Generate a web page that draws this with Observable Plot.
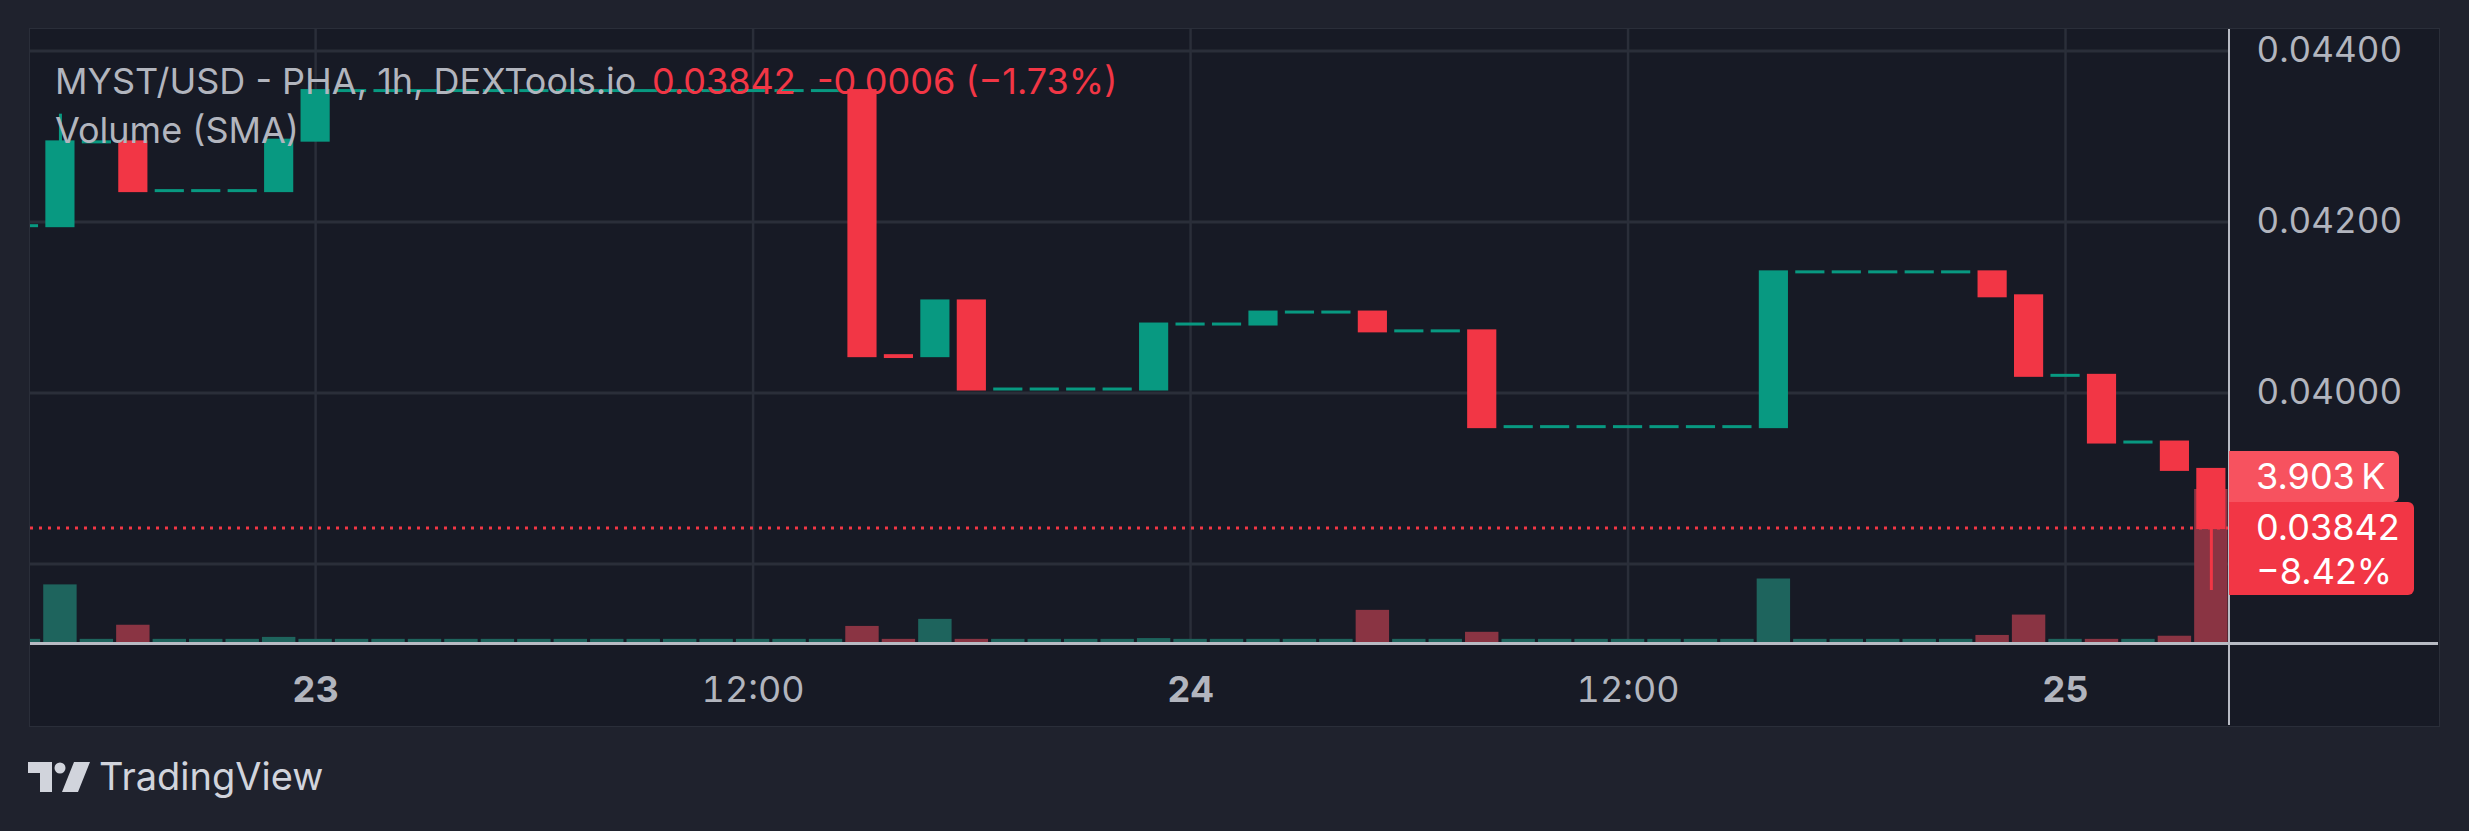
<!DOCTYPE html>
<html><head><meta charset="utf-8">
<script src="https://cdn.jsdelivr.net/npm/d3@7"></script>
<script src="https://cdn.jsdelivr.net/npm/@observablehq/plot@0.6"></script>
<style>
html,body{margin:0;padding:0;background:#1f222d;}
#root{position:relative;width:2469px;height:831px;background:#1f222d;font-family:Inter,"Noto Sans",sans-serif;overflow:hidden}
#panel{position:absolute;left:29px;top:28px;width:2411px;height:699px;background:#171a25;border:1px solid #2a2e39;box-sizing:border-box}
.layer{position:absolute;left:30px;top:29px;}
.abs{position:absolute;white-space:pre;}
.legend{font-size:36px;line-height:1;color:#b2b5be;}
.red{color:#f23645;}
.lbl{position:absolute;left:2229px;color:#fff;font-size:36px;border-radius:0 6px 6px 0;box-sizing:border-box;padding-left:27px;}
</style></head>
<body><div id="root"><div id="panel"></div></div>
<script>
// ---------- data ----------
const times = [
"2024-06-22T16:00Z","2024-06-22T17:00Z","2024-06-22T18:00Z","2024-06-22T19:00Z","2024-06-22T20:00Z","2024-06-22T21:00Z","2024-06-22T22:00Z","2024-06-22T23:00Z",
"2024-06-23T00:00Z","2024-06-23T01:00Z","2024-06-23T02:00Z","2024-06-23T03:00Z","2024-06-23T04:00Z","2024-06-23T05:00Z","2024-06-23T06:00Z","2024-06-23T07:00Z",
"2024-06-23T08:00Z","2024-06-23T09:00Z","2024-06-23T10:00Z","2024-06-23T11:00Z","2024-06-23T12:00Z","2024-06-23T13:00Z","2024-06-23T14:00Z","2024-06-23T15:00Z",
"2024-06-23T16:00Z","2024-06-23T17:00Z","2024-06-23T18:00Z","2024-06-23T19:00Z","2024-06-23T20:00Z","2024-06-23T21:00Z","2024-06-23T22:00Z","2024-06-23T23:00Z",
"2024-06-24T00:00Z","2024-06-24T01:00Z","2024-06-24T02:00Z","2024-06-24T03:00Z","2024-06-24T04:00Z","2024-06-24T05:00Z","2024-06-24T06:00Z","2024-06-24T07:00Z",
"2024-06-24T08:00Z","2024-06-24T09:00Z","2024-06-24T10:00Z","2024-06-24T11:00Z","2024-06-24T12:00Z","2024-06-24T13:00Z","2024-06-24T14:00Z","2024-06-24T15:00Z",
"2024-06-24T16:00Z","2024-06-24T17:00Z","2024-06-24T18:00Z","2024-06-24T19:00Z","2024-06-24T20:00Z","2024-06-24T21:00Z","2024-06-24T22:00Z","2024-06-24T23:00Z",
"2024-06-25T00:00Z","2024-06-25T01:00Z","2024-06-25T02:00Z","2024-06-25T03:00Z","2024-06-25T04:00Z"];
const opens = [
0.04195,0.04195,0.04293,0.04293,0.04236,0.04236,0.04236,0.04236,
0.04295,0.04353,0.04353,0.04353,0.04353,0.04353,0.04353,0.04353,
0.04353,0.04353,0.04353,0.04353,0.04353,0.04353,0.04353,0.04353,
0.04043,0.04043,0.04107,0.04004,0.04004,0.04004,0.04004,0.04004,
0.04080,0.04080,0.04080,0.04094,0.04094,0.04094,0.04072,0.04072,
0.04072,0.03960,0.03960,0.03960,0.03960,0.03960,0.03960,0.03960,
0.03960,0.04141,0.04141,0.04141,0.04141,0.04141,0.04141,0.04113,
0.04020,0.04020,0.03942,0.03942,0.03910];
const closes = [
0.04195,0.04293,0.04293,0.04236,0.04236,0.04236,0.04236,0.04295,
0.04353,0.04353,0.04353,0.04353,0.04353,0.04353,0.04353,0.04353,
0.04353,0.04353,0.04353,0.04353,0.04353,0.04353,0.04353,0.04043,
0.04042,0.04107,0.04004,0.04004,0.04004,0.04004,0.04004,0.04080,
0.04080,0.04080,0.04094,0.04094,0.04094,0.04072,0.04072,0.04072,
0.03960,0.03960,0.03960,0.03960,0.03960,0.03960,0.03960,0.03960,
0.04141,0.04141,0.04141,0.04141,0.04141,0.04141,0.04113,0.04020,
0.04020,0.03942,0.03942,0.03910,0.03842];
const highs = [
0.04195,0.04326,0.04293,0.04293,0.04236,0.04236,0.04236,0.04295,
0.04353,0.04353,0.04353,0.04353,0.04353,0.04353,0.04353,0.04353,
0.04353,0.04353,0.04353,0.04353,0.04353,0.04353,0.04353,0.04353,
0.04043,0.04107,0.04107,0.04004,0.04004,0.04004,0.04004,0.04080,
0.04080,0.04080,0.04094,0.04094,0.04094,0.04094,0.04072,0.04072,
0.04072,0.03960,0.03960,0.03960,0.03960,0.03960,0.03960,0.03960,
0.04141,0.04141,0.04141,0.04141,0.04141,0.04141,0.04141,0.04113,
0.04020,0.04020,0.03942,0.03942,0.03910];
const lows = [
0.04195,0.04195,0.04293,0.04236,0.04236,0.04236,0.04236,0.04236,
0.04295,0.04353,0.04353,0.04353,0.04353,0.04353,0.04353,0.04353,
0.04353,0.04353,0.04353,0.04353,0.04353,0.04353,0.04353,0.04043,
0.04042,0.04043,0.04004,0.04004,0.04004,0.04004,0.04004,0.04004,
0.04080,0.04080,0.04080,0.04094,0.04094,0.04072,0.04072,0.04072,
0.03960,0.03960,0.03960,0.03960,0.03960,0.03960,0.03960,0.03960,
0.03960,0.04141,0.04141,0.04141,0.04141,0.04141,0.04113,0.04020,
0.04020,0.03942,0.03942,0.03910,0.03769];
const volumes = [
80,1470,80,440,80,80,80,130,
80,80,80,80,80,80,80,80,
80,80,80,80,80,80,80,410,
80,590,80,80,80,80,80,100,
80,80,80,80,80,820,80,80,
260,80,80,80,80,80,80,80,
1620,80,80,80,80,80,180,700,
80,80,80,160,3903];
const gridPrices = [0.038, 0.040, 0.042, 0.044];
const priceTicks = [0.040, 0.042, 0.044];
const dayTicks = ["2024-06-23T00:00Z","2024-06-24T00:00Z","2024-06-25T00:00Z"];
const dayLabels = ["23","24","25"];
const halfTicks = ["2024-06-23T12:00Z","2024-06-24T12:00Z"];
const halfLabels = ["12:00","12:00"];
const xDomain = ["2024-06-22T16:10:45Z","2024-06-25T04:31:30Z"];
const yDomain = [0.03707, 0.04425];
const title = "MYST/USD - PHA, 1h, DEXTools.io";
const lastText = "0.03842", changeText = "-0.0006 (\u22121.73%)";
const volLabel = "3.903\u2009K", pctLabel = "\u22128.42%";

// ---------- build ----------
const UP = "#089981", DOWN = "#f23645", UPV = "#1e645d", DOWNV = "#8a3443";
const GRID = "#2a2e39", TXT = "#b2b5be";
const candles = times.map((t, i) => ({
  t: new Date(t), open: opens[i], close: closes[i], high: highs[i], low: lows[i],
  vol: volumes[i], up: closes[i] >= opens[i]
}));
const MIN = 60e3;
const W = 2409, H = 696;
const common = {width: W, height: H, marginLeft: 0, marginRight: 209,
  style: {background: "transparent", fontFamily: "Inter, 'Noto Sans', sans-serif", overflow: "visible"}};
const xs = {type: "utc", domain: xDomain.map(d => new Date(d))};
const root = document.getElementById("root");
function add(svg, z) { svg.classList.add("layer"); svg.style.zIndex = z; svg.style.position = "absolute"; root.appendChild(svg); return svg; }

const dayMap = new Map(dayTicks.map((d, i) => [+new Date(d), dayLabels[i]]));
const halfMap = new Map(halfTicks.map((d, i) => [+new Date(d), halfLabels[i]]));
const allTicks = [...dayTicks, ...halfTicks].map(d => new Date(d));

// layer 1: grid + axes
const base = Plot.plot({...common, marginTop: 0, marginBottom: 82,
  x: {...xs, axis: null}, y: {domain: yDomain, axis: null},
  marks: [
    Plot.ruleY(gridPrices, {stroke: GRID, strokeWidth: 3}),
    Plot.ruleX(allTicks, {stroke: GRID, strokeWidth: 2.5}),
    Plot.axisY(priceTicks, {anchor: "right", tickSize: 0, tickPadding: 26, fontSize: 35,
      tickFormat: d3.format(".5f"), fill: TXT, label: null}),
    Plot.axisX(dayTicks.map(d => new Date(d)), {anchor: "bottom", tickSize: 0, tickPadding: 33, fontSize: 36,
      fontWeight: "bold", tickFormat: d => dayMap.get(+d), fill: TXT, label: null}),
    Plot.axisX(halfTicks.map(d => new Date(d)), {anchor: "bottom", tickSize: 0, tickPadding: 33, fontSize: 36,
      tickFormat: d => halfMap.get(+d), fill: TXT, label: null})
  ]});
add(base, 1);

// layer 2: volume
const vol = Plot.plot({...common, marginTop: 460, marginBottom: 83,
  x: {...xs, axis: null}, y: {domain: [0, d3.max(volumes)], axis: null},
  color: {type: "identity"},
  marks: [
    Plot.rect(candles, {x1: d => new Date(+d.t - 27.5 * MIN), x2: d => new Date(+d.t + 27.5 * MIN),
      y1: 0, y2: "vol", fill: d => d.up ? UPV : DOWNV, clip: true})
  ]});
add(vol, 2);

// layer 3: candles + last price line
const lastClose = closes[closes.length - 1];
const price = Plot.plot({...common, marginTop: 0, marginBottom: 82,
  x: {...xs, axis: null}, y: {domain: yDomain, axis: null},
  color: {type: "identity"},
  marks: [
    Plot.ruleX(candles.filter(d => d.high > Math.max(d.open, d.close) || d.low < Math.min(d.open, d.close)),
      {x: "t", y1: "low", y2: "high", stroke: d => d.up ? UP : DOWN, strokeWidth: 3, clip: true}),
    Plot.rect(candles, {x1: d => new Date(+d.t - 24 * MIN), x2: d => new Date(+d.t + 24 * MIN),
      y1: "open", y2: "close", fill: d => d.up ? UP : DOWN, insetTop: -1.5, insetBottom: -1.5, clip: true}),
    Plot.ruleY([lastClose], {stroke: DOWN, strokeWidth: 3, strokeDasharray: "3,6"})
  ]});
add(price, 3);

// axis lines
function div(css, html) { const d = document.createElement("div"); d.style.cssText = css; if (html != null) d.innerHTML = html; root.appendChild(d); return d; }
div("position:absolute;left:30px;top:642px;width:2408px;height:3px;background:#b8bbc4;z-index:4");
div("position:absolute;left:2228px;top:29px;width:2px;height:696px;background:#b8bbc4;z-index:4");

// legend
const legend = (x, y, txt, cls) => { const d = div(`left:${x}px;top:${y}px;z-index:5`); d.className = "abs legend " + (cls || ""); d.textContent = txt; };
legend(55, 63, title);
legend(652, 63, lastText, "red");
legend(817, 63, changeText, "red");
legend(55, 112, "Volume (SMA)");

// price / volume labels
const py = 29 + price.scale("y").apply(lastClose);
const l2 = div(`top:${py - 26}px;width:185px;height:93px;background:${DOWN};z-index:6;line-height:44px;padding-top:3px`);
l2.className = "lbl"; l2.innerHTML = `${lastText}<br>${pctLabel}`;
const l1 = div(`top:${py - 77}px;width:170px;height:51px;background:#f7525f;z-index:6;line-height:51px`);
l1.className = "lbl"; l1.textContent = volLabel;

// logo
div("position:absolute;left:28px;top:762px;width:62px;height:30px;z-index:5",
 `<svg width="62" height="30" viewBox="0 0 62 30"><path d="M0 0H24V30H12V11H0Z" fill="#d1d4dc"/><circle cx="32" cy="6" r="5.5" fill="#d1d4dc"/><path d="M46 0H62L50 30H34Z" fill="#d1d4dc"/></svg>`);
const tv = div("left:99px;top:757px;z-index:5;font-size:38px;color:#d1d4dc;line-height:1");
tv.className = "abs"; tv.textContent = "TradingView";
</script></body></html>
